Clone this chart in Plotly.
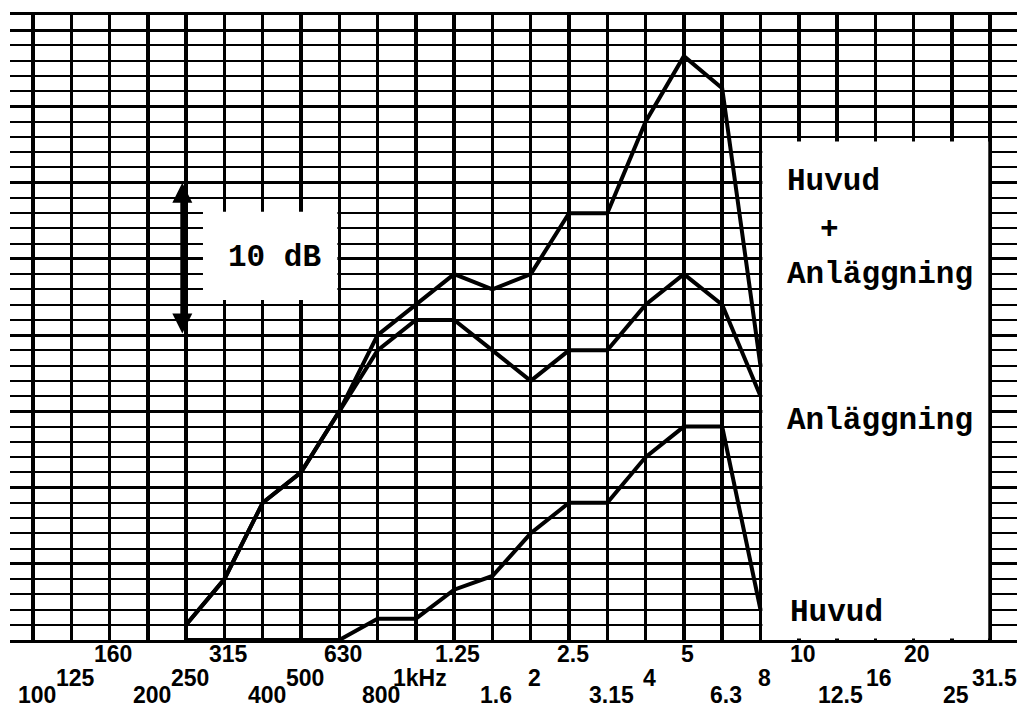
import plotly.graph_objects as go

# Third-octave band centre frequencies (Hz) and their printed labels
band_hz = [100, 125, 160, 200, 250, 315, 400, 500, 630, 800, 1000, 1250, 1600,
           2000, 2500, 3150, 4000, 5000, 6300, 8000, 10000, 12500, 16000, 20000,
           25000, 31500]
band_labels = ["100", "125", "160", "200", "250", "315", "400", "500", "630",
               "800", "1kHz", "1.25", "1.6", "2", "2.5", "3.15", "4", "5", "6.3",
               "8", "10", "12.5", "16", "20", "25", "31.5"]

meas_hz = [250, 315, 400, 500, 630, 800, 1000, 1250, 1600, 2000, 2500, 3150,
           4000, 5000, 6300, 8000]
huvud_anlaggning = [1, 4, 9, 11, 15, 20, 22, 24, 23, 24, 28, 28, 34, 38.3, 36.2, 18]
anlaggning = [1, 4, 9, 11, 15, 19, 21, 21, 19, 17, 19, 19, 22, 24, 22, 16]
huvud = [0, 0, 0, 0, 0, 1.4, 1.4, 3.3, 4.2, 7, 9, 9, 12, 14, 14, 2]

scale_db = [20, 30]          # the "10 dB" scale arrow
y_top = 41

idx = {f: i for i, f in enumerate(band_hz)}
mx = [idx[f] for f in meas_hz]

fig = go.Figure()
for ys in (huvud_anlaggning, anlaggning, huvud):
    fig.add_trace(go.Scatter(x=mx, y=ys, mode="lines",
                             line=dict(color="black", width=4),
                             cliponaxis=False, hoverinfo="skip"))

mono = "Liberation Mono, Courier New, monospace"
narrow = "Liberation Sans Narrow, Arial Narrow, Liberation Sans, Arial, sans-serif"

ann = []
# frequency labels in three staggered rows (paper y below the plot area)
row_y = {2: -0.023, 1: -0.060, 0: -0.088}
for i, lab in enumerate(band_labels):
    ann.append(dict(x=i + 0.1, y=row_y[i % 3], xref="x", yref="paper",
                    text="<b>" + lab + "</b>", showarrow=False,
                    xanchor="center", yanchor="middle",
                    font=dict(family=narrow, size=23, color="black")))

# legend-like texts
txt = [
    dict(x=19.63, y=30.1, text="<b>Huvud</b>", xanchor="left"),
    dict(x=20.81, y=26.9, text="<b>+</b>", xanchor="center"),
    dict(x=19.63, y=24.0, text="<b>Anläggning</b>", xanchor="left"),
    dict(x=19.63, y=14.4, text="<b>Anläggning</b>", xanchor="left"),
    dict(x=19.71, y=1.8, text="<b>Huvud</b>", xanchor="left"),
    dict(x=5.05, y=25.1, text="<b>10 dB</b>", xanchor="left"),
]
for a in txt:
    a.update(xref="x", yref="y", showarrow=False, yanchor="middle",
             font=dict(family=mono, size=31, color="black"))
ann += txt

# 10 dB double arrow
ann.append(dict(x=3.9, y=scale_db[1], ax=3.9, ay=scale_db[0], xref="x", yref="y",
                axref="x", ayref="y", text="", showarrow=True,
                arrowhead=2, startarrowhead=2, arrowside="end+start",
                arrowsize=1, startarrowsize=1, arrowwidth=4, arrowcolor="black"))

shapes = [
    # white label box for "10 dB"
    dict(type="rect", xref="x", yref="y", x0=4.44, x1=7.95, y0=22.3, y1=28.1,
         fillcolor="white", line=dict(width=0), layer="between"),
    # white legend box on the right
    dict(type="rect", xref="x", yref="y", x0=19.05, x1=24.95, y0=0.1, y1=32.7,
         fillcolor="white", line=dict(width=0), layer="between"),
]

fig.update_layout(
    width=1019, height=720,
    margin=dict(l=10, r=2, t=15, b=80),
    paper_bgcolor="white", plot_bgcolor="white",
    showlegend=False,
    annotations=ann, shapes=shapes,
    xaxis=dict(range=[-0.6, 25.7], tickvals=list(range(len(band_hz))),
               showticklabels=False, ticks="", showgrid=True,
               gridcolor="black", gridwidth=3.5, zeroline=False,
               showline=True, mirror=True, linecolor="black", linewidth=3),
    yaxis=dict(range=[0, y_top], tick0=0, dtick=5, showticklabels=False,
               ticks="", showgrid=True, gridcolor="black", gridwidth=3,
               minor=dict(dtick=1, showgrid=True, gridcolor="black", gridwidth=2),
               zeroline=False, showline=False),
)

fig.write_html("out.html",
               config={"displayModeBar": False, "staticPlot": True},
               post_script="document.body.style.margin='0';"
                           "document.body.style.overflow='hidden';")
